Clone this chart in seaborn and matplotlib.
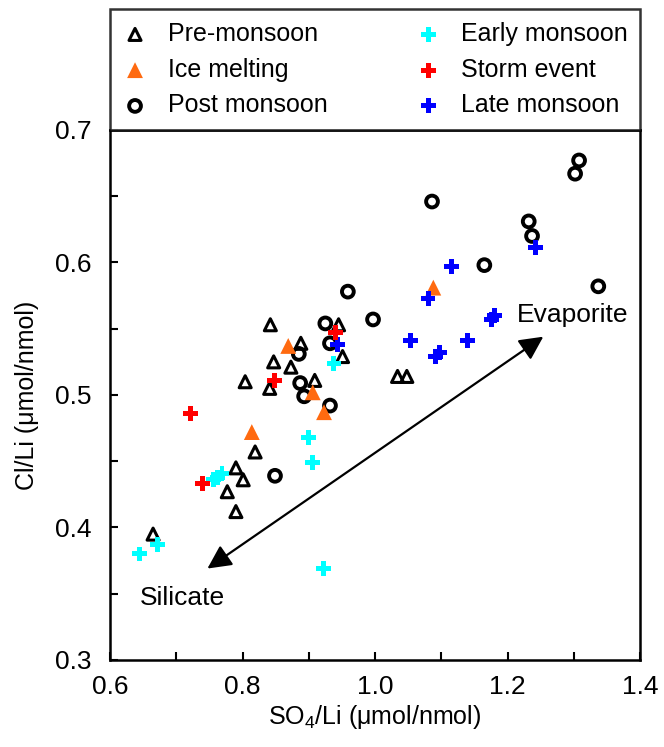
import matplotlib
matplotlib.use("Agg")
import matplotlib.pyplot as plt
import seaborn as sns
from matplotlib.ticker import MultipleLocator, FormatStrFormatter

# ---- data ----
pre_x = [0.842, 0.804, 0.841, 0.847, 0.873, 0.888, 0.909, 0.945, 0.951, 0.819,
         0.790, 0.801, 0.777, 0.790, 0.665, 1.034, 1.048]
pre_y = [0.553, 0.510, 0.505, 0.525, 0.521, 0.539, 0.511, 0.553, 0.529, 0.457,
         0.445, 0.436, 0.427, 0.412, 0.395, 0.514, 0.514]

ice_x = [0.869, 0.906, 0.923, 0.814, 1.088]
ice_y = [0.537, 0.502, 0.487, 0.472, 0.581]

post_x = [0.959, 0.925, 0.997, 0.932, 0.885, 0.887, 0.893, 0.932, 0.849, 1.086,
          1.165, 1.232, 1.237, 1.308, 1.302, 1.337]
post_y = [0.578, 0.554, 0.557, 0.539, 0.531, 0.509, 0.499, 0.492, 0.439, 0.646,
          0.598, 0.631, 0.620, 0.677, 0.667, 0.582]

early_x = [0.938, 0.900, 0.905, 0.769, 0.762, 0.756, 0.644, 0.672, 0.922]
early_y = [0.524, 0.468, 0.449, 0.441, 0.438, 0.436, 0.380, 0.387, 0.369]

storm_x = [0.941, 0.848, 0.722, 0.740]
storm_y = [0.547, 0.511, 0.486, 0.433]

late_x = [0.943, 1.116, 1.080, 1.242, 1.176, 1.180, 1.053, 1.139, 1.091, 1.098]
late_y = [0.538, 0.597, 0.573, 0.611, 0.557, 0.560, 0.541, 0.541, 0.529, 0.532]

plt.rcParams['font.family'] = ['Liberation Sans', 'DejaVu Sans']
plt.rcParams['mathtext.fontset'] = 'custom'
plt.rcParams['mathtext.rm'] = 'Liberation Sans'
plt.rcParams['mathtext.it'] = 'Liberation Sans:italic'

fig = plt.figure(figsize=(6.64, 7.47), dpi=100)
ax = fig.add_axes([0.1657, 0.1165, 0.7982, 0.7095])

# open markers
sns.scatterplot(x=pre_x, y=pre_y, marker='^', s=75, color='black', facecolor='none',
                edgecolor='black', linewidth=2.2, label='Pre-monsoon', ax=ax, zorder=3)
sns.scatterplot(x=post_x, y=post_y, marker='o', s=72, color='black', facecolor='none',
                edgecolor='black', linewidth=2.8, label='Post monsoon', ax=ax, zorder=3)
# filled markers
sns.scatterplot(x=ice_x, y=ice_y, marker='^', s=130, color='#ff6a10', edgecolor='none',
                label='Ice melting', ax=ax, zorder=3)
sns.scatterplot(x=early_x, y=early_y, marker='P', s=115, color='#00ffff', edgecolor='none',
                label='Early monsoon', ax=ax, zorder=3)
sns.scatterplot(x=late_x, y=late_y, marker='P', s=115, color='#0000ff', edgecolor='none',
                label='Late monsoon', ax=ax, zorder=3)
sns.scatterplot(x=storm_x, y=storm_y, marker='P', s=115, color='#ff0000', edgecolor='none',
                label='Storm event', ax=ax, zorder=3)

# mixing arrow
ax.annotate('', xy=(0.747, 0.369), xytext=(1.254, 0.544),
            arrowprops=dict(arrowstyle='<|-|>', color='black', lw=1.6,
                            mutation_scale=36, shrinkA=0, shrinkB=0))
ax.text(1.214, 0.560, 'Evaporite', fontsize=19, va='center', ha='left')
ax.text(0.645, 0.347, 'Silicate', fontsize=19, va='center', ha='left')

ax.set_xlim(0.6, 1.4)
ax.set_ylim(0.3, 0.7)
ax.xaxis.set_major_locator(MultipleLocator(0.2))
ax.xaxis.set_minor_locator(MultipleLocator(0.1))
ax.yaxis.set_major_locator(MultipleLocator(0.1))
ax.yaxis.set_minor_locator(MultipleLocator(0.05))
ax.xaxis.set_major_formatter(FormatStrFormatter('%.1f'))
ax.yaxis.set_major_formatter(FormatStrFormatter('%.1f'))
ax.tick_params(which='both', direction='in', length=6, width=1.5, labelsize=19,
               top=False, right=False)
ax.tick_params(axis='x', pad=11)
ax.tick_params(axis='y', pad=13)
for sp in ax.spines.values():
    sp.set_linewidth(1.8)
    sp.set_color('black')

ax.set_xlabel('SO$_4$/Li (μmol/nmol)', fontsize=18, labelpad=3)
ax.set_ylabel('Cl/Li (μmol/nmol)', fontsize=18, labelpad=12)

handles, labels = ax.get_legend_handles_labels()
lookup = dict(zip(labels, handles))
order = ['Pre-monsoon', 'Ice melting', 'Post monsoon', 'Early monsoon', 'Storm event', 'Late monsoon']
leg = ax.legend([lookup[k] for k in order], order, loc='lower left',
                bbox_to_anchor=(0, 1.0, 1, 0.236), mode='expand', ncol=2,
                borderaxespad=0, fontsize=18, frameon=True, fancybox=False,
                handletextpad=0.8, labelspacing=0.47, handlelength=1.0,
                borderpad=0.5, columnspacing=1.0)
leg.get_frame().set_edgecolor('black')
leg.get_frame().set_linewidth(1.8)

fig.savefig('out.png', dpi=100)
